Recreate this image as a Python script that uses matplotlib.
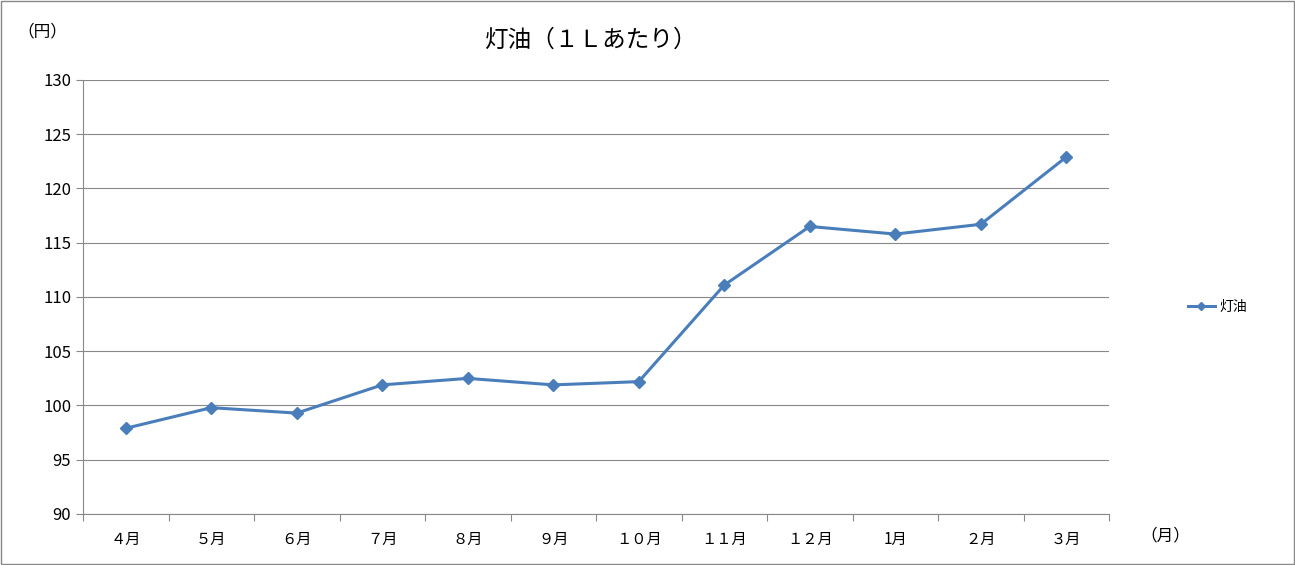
import matplotlib
matplotlib.use("Agg")
import matplotlib.pyplot as plt

plt.rcParams['font.family'] = ['Noto Sans CJK JP', 'DejaVu Sans']

months = ["４月","５月","６月","７月","８月","９月","１０月","１１月","１２月","1月","２月","３月"]
kerosene = [97.9, 99.8, 99.3, 101.9, 102.5, 101.9, 102.2, 111.1, 116.5, 115.8, 116.7, 122.9]

fig = plt.figure(figsize=(12.95, 5.65), dpi=100)
ax = fig.add_axes([83/1295, 1-514/565, (1109-83)/1295, (514-80)/565])
x = list(range(len(months)))
line, = ax.plot(x, kerosene, color='#4a7ebb', lw=2.2, marker='D', ms=6, label='灯油')
ax.set_xlim(-0.5, len(months)-0.5)
ax.set_ylim(90, 130)
ax.set_yticks(range(90, 131, 5))
ax.grid(axis='y', color='#888888', lw=0.8)
ax.set_axisbelow(True)
for s in ['top', 'right']:
    ax.spines[s].set_visible(False)
ax.spines['left'].set_color('#888888')
ax.spines['bottom'].set_color('#888888')
ax.set_xticks([i+0.5 for i in range(-1, len(months))], minor=False)
ax.set_xticklabels([])
ax.tick_params(axis='x', length=5, color='#888888')
ax.set_xticks(x, minor=True)
ax.set_xticklabels(months, minor=True, fontsize=11)
ax.tick_params(axis='x', which='minor', length=0, pad=12)
ax.tick_params(axis='y', length=5, color='#888888', labelsize=12)
fig.text(0.5, 1-40/565, '灯油（１Ｌあたり）', ha='center', va='center', fontsize=17, transform=fig.transFigure) if False else None
fig.text(590/1295, 1-40/565, '灯油（１Ｌあたり）', ha='center', va='center', fontsize=17)
fig.text(42/1295, 1-32/565, '（円）', ha='center', va='center', fontsize=12)
fig.text(1165/1295, 1-536/565, '（月）', ha='center', va='center', fontsize=12)
fig.legend(handles=[line], loc='center left', bbox_to_anchor=(1175/1295, 1-307/565),
           frameon=False, fontsize=10, handlelength=2, handletextpad=0.3, markerscale=0.7)
fig.patches.append(plt.Rectangle((0.001, 0.001), 0.998, 0.997, transform=fig.transFigure,
                                 fill=False, ec='#888888', lw=1))
fig.savefig('out.png', dpi=100)
